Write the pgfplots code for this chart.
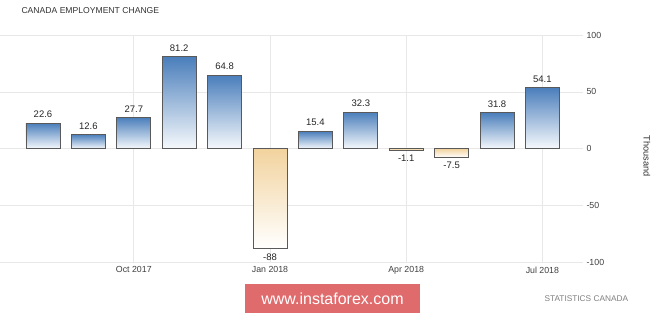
\documentclass[border=0pt]{standalone}
\usepackage{pgfplots}
\pgfplotsset{compat=1.18}
\usepackage{fontspec}
\setmainfont{Liberation Sans}
\definecolor{barblue}{HTML}{4A7EBB}
\definecolor{barlight}{HTML}{F6F9FC}
\definecolor{tanc}{HTML}{F2D39E}
\definecolor{gridc}{HTML}{E8E8E8}
\definecolor{wm}{HTML}{E06B6D}
\pgfplotsset{
 posbar/.style={draw=black!65, line width=0.7pt, top color=barblue, bottom color=barlight,
  every node near coord/.append style={anchor=south, yshift=1.5pt}},
 negbar/.style={draw=black!65, line width=0.7pt, top color=tanc, bottom color=white,
  every node near coord/.append style={anchor=north, yshift=-1.5pt}},
}
\begin{document}
\begin{tikzpicture}[x=1pt,y=1pt]
\path[use as bounding box, fill=white] (0,0) rectangle (665,315);
\begin{axis}[
 at={(0,46.5)}, anchor=south west,
 scale only axis, width=583pt, height=227pt,
 xmin=-0.947, xmax=11.894, ymin=-100, ymax=100,
 axis line style={draw=none},
 xtick={2,5,8,11}, xticklabels={Oct 2017,Jan 2018,Apr 2018,Jul 2018},
 ytick={-100,-50,0,50,100},
 yticklabel pos=right,
 major tick length=0pt,
 grid=major, major grid style={gridc, line width=0.8pt},
 ticklabel style={font=\fontsize{8.8}{10}\selectfont, text=black!75},
 /pgf/number format/assume math mode=true,
 yticklabel style={anchor=west, xshift=0pt},
 xticklabel style={yshift=-1pt},
 ybar, bar width=34pt, bar shift=0pt,
 clip=false,
 point meta=explicit symbolic,
 nodes near coords,
 every node near coord/.append style={font=\fontsize{9.5}{10}\selectfont, text=black!85},
]
\addplot[posbar] coordinates {(0,22.6)[22.6]};
\addplot[posbar] coordinates {(1,12.6)[12.6]};
\addplot[posbar] coordinates {(2,27.7)[27.7]};
\addplot[posbar] coordinates {(3,81.2)[81.2]};
\addplot[posbar] coordinates {(4,64.8)[64.8]};
\addplot[negbar] coordinates {(5,-88)[-88]};
\addplot[posbar] coordinates {(6,15.4)[15.4]};
\addplot[posbar] coordinates {(7,32.3)[32.3]};
\addplot[negbar] coordinates {(8,-1.1)[-1.1]};
\addplot[negbar] coordinates {(9,-7.5)[-7.5]};
\addplot[posbar] coordinates {(10,31.8)[31.8]};
\addplot[posbar] coordinates {(11,54.1)[54.1]};
\end{axis}
\node[anchor=west, text=black!80, font=\fontsize{8.6}{10}\selectfont] at (18,304) {CANADA EMPLOYMENT CHANGE};
\node[rotate=-90, text=black!80, font=\fontsize{9.2}{10}\selectfont] at (647,159) {Thousand};
\node[anchor=west, text=black!50, font=\fontsize{8.3}{10}\selectfont] at (541,16) {STATISTICS CANADA};
\fill[wm] (245,2) rectangle (420,31);
\node[text=white, font=\fontsize{16}{18}\selectfont] at (332.5,16.5) {www.instaforex.com};
\end{tikzpicture}
\end{document}
